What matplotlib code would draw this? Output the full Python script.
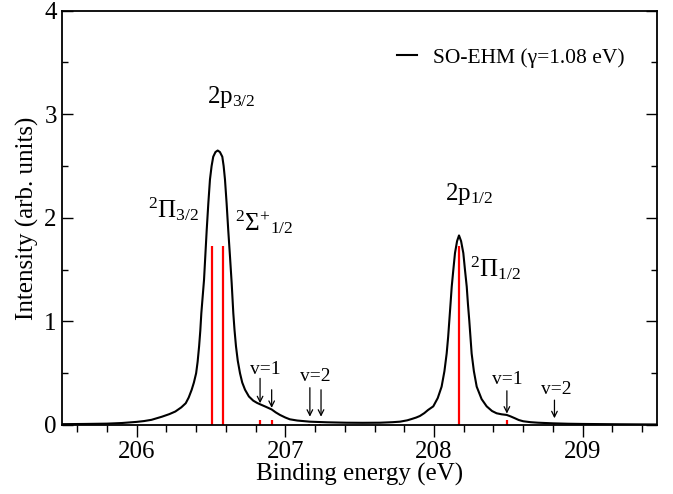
import matplotlib
matplotlib.use("Agg")
import matplotlib.pyplot as plt
from matplotlib.ticker import MultipleLocator

plt.rcParams['font.family'] = ['Liberation Serif', 'DejaVu Serif']
plt.rcParams['mathtext.fontset'] = 'custom'
plt.rcParams['mathtext.rm'] = 'Liberation Serif'
plt.rcParams['mathtext.it'] = 'Liberation Serif:italic'

# SO-EHM spectrum
energy = [205.50, 205.65, 205.80, 205.90, 206.00, 206.05, 206.10, 206.17, 206.22,
          206.26, 206.30, 206.33, 206.35, 206.37, 206.385, 206.40, 206.41, 206.42,
          206.428, 206.435, 206.444, 206.453, 206.462, 206.471, 206.482, 206.493,
          206.504, 206.515, 206.53, 206.545, 206.56, 206.576, 206.585, 206.594,
          206.605, 206.616, 206.628, 206.639, 206.65, 206.658, 206.668, 206.68,
          206.695, 206.71, 206.729, 206.755, 206.784, 206.81, 206.83, 206.87,
          206.908, 206.935, 206.964, 207.00, 207.03, 207.08, 207.165, 207.28,
          207.41, 207.52, 207.636, 207.72, 207.771, 207.82, 207.85, 207.88,
          207.905, 207.935, 207.96, 207.995, 208.025, 208.051, 208.07, 208.085,
          208.095, 208.103, 208.111, 208.119, 208.13, 208.141, 208.155, 208.168,
          208.182, 208.197, 208.208, 208.22, 208.228, 208.237, 208.245, 208.253,
          208.268, 208.287, 208.32, 208.354, 208.39, 208.421, 208.455, 208.489,
          208.515, 208.544, 208.57, 208.60, 208.65, 208.70, 208.80, 208.90,
          209.00, 209.25, 209.50]
intensity = [0.008, 0.010, 0.013, 0.019, 0.030, 0.038, 0.050, 0.080, 0.105,
             0.130, 0.170, 0.210, 0.265, 0.340, 0.410, 0.500, 0.610, 0.760,
             0.910, 1.080, 1.240, 1.400, 1.640, 1.880, 2.140, 2.370,
             2.500, 2.590, 2.635, 2.650, 2.635, 2.590, 2.500, 2.370,
             2.140, 1.880, 1.620, 1.370, 1.080, 0.920, 0.760, 0.620,
             0.500, 0.410, 0.340, 0.275, 0.235, 0.213, 0.200, 0.175,
             0.150, 0.122, 0.097, 0.072, 0.055, 0.043, 0.032, 0.026,
             0.022, 0.021, 0.022, 0.027, 0.032, 0.045, 0.058, 0.072,
             0.087, 0.115, 0.145, 0.180, 0.260, 0.370, 0.520, 0.690,
             0.850, 1.010, 1.170, 1.335, 1.500, 1.660, 1.775, 1.830,
             1.775, 1.660, 1.500, 1.335, 1.170, 1.010, 0.850, 0.690,
             0.520, 0.370, 0.250, 0.180, 0.135, 0.113, 0.103, 0.097,
             0.083, 0.065, 0.048, 0.036, 0.027, 0.022, 0.016, 0.012,
             0.010, 0.007, 0.005]

# stick spectrum (red lines)
stick_pos = [206.507, 206.583, 206.83, 206.908, 207.16, 207.233, 208.168, 208.493, 208.81]
stick_h = [1.73, 1.73, 0.045, 0.045, 0.01, 0.01, 1.73, 0.05, 0.008]

# vibrational arrows: x, y start, y tip
arrow_x = [206.83, 206.908, 207.165, 207.24, 208.49, 208.81]
arrow_y0 = [0.45, 0.34, 0.36, 0.34, 0.33, 0.24]
arrow_y1 = [0.21, 0.165, 0.08, 0.08, 0.11, 0.065]

fig = plt.figure(figsize=(6.73, 4.94), dpi=100)
ax = fig.add_axes([0.0926, 0.1397, 0.8837, 0.8387])

ax.vlines(stick_pos, 0, stick_h, color='red', lw=1.6, zorder=2)
ax.plot(energy, intensity, color='black', lw=1.5, label='SO-EHM (γ=1.08 eV)', zorder=3)

for x, y0, y1 in zip(arrow_x, arrow_y0, arrow_y1):
    ax.annotate('', xy=(x, y1), xytext=(x, y0),
                arrowprops=dict(arrowstyle='->', color='black', lw=0.9,
                                shrinkA=0, shrinkB=0, mutation_scale=10))

ax.text(206.867, 0.49, 'v=1', fontsize=14, ha='center', va='baseline')
ax.text(207.20, 0.42, 'v=2', fontsize=14, ha='center', va='baseline')
ax.text(208.49, 0.40, 'v=1', fontsize=14, ha='center', va='baseline')
ax.text(208.82, 0.30, 'v=2', fontsize=14, ha='center', va='baseline')

ax.text(206.473, 3.11, r'$\mathrm{2p}_{3/2}$', fontsize=18, ha='left', va='baseline')
ax.text(206.077, 2.00, r'$^{2}\Pi_{3/2}$', fontsize=18, ha='left', va='baseline')
ax.text(206.66, 1.88, r'$^{2}\Sigma^{+}{}_{1/2}$', fontsize=18, ha='left', va='baseline')
ax.text(208.074, 2.17, r'$\mathrm{2p}_{1/2}$', fontsize=18, ha='left', va='baseline')
ax.text(208.242, 1.43, r'$^{2}\Pi_{1/2}$', fontsize=18, ha='left', va='baseline')

ax.legend(loc='upper left', bbox_to_anchor=(0.5623, 0.91), frameon=False,
          fontsize=15.5, handlelength=0.95, handletextpad=0.72,
          borderpad=0, borderaxespad=0)

ax.set_xlim(205.5, 209.5)
ax.set_ylim(0, 4)
ax.xaxis.set_major_locator(MultipleLocator(1))
ax.xaxis.set_minor_locator(MultipleLocator(0.2))
ax.yaxis.set_major_locator(MultipleLocator(1))
ax.yaxis.set_minor_locator(MultipleLocator(0.5))

ax.tick_params(axis='x', which='both', direction='out', labelsize=18, pad=3)
ax.tick_params(axis='x', which='major', length=8.5, width=1.0)
ax.tick_params(axis='x', which='minor', length=5, width=1.0)
ax.tick_params(axis='y', which='both', direction='in', right=True, labelsize=18, pad=4)
ax.tick_params(axis='y', which='major', length=8, width=1.0)
ax.tick_params(axis='y', which='minor', length=4.3, width=1.0)
for s in ax.spines.values():
    s.set_linewidth(1.3)

ax.set_xlabel('Binding energy (eV)', fontsize=18, labelpad=0)
ax.set_ylabel('Intensity (arb. units)', fontsize=18, labelpad=4)

fig.savefig('out.png', dpi=100)
